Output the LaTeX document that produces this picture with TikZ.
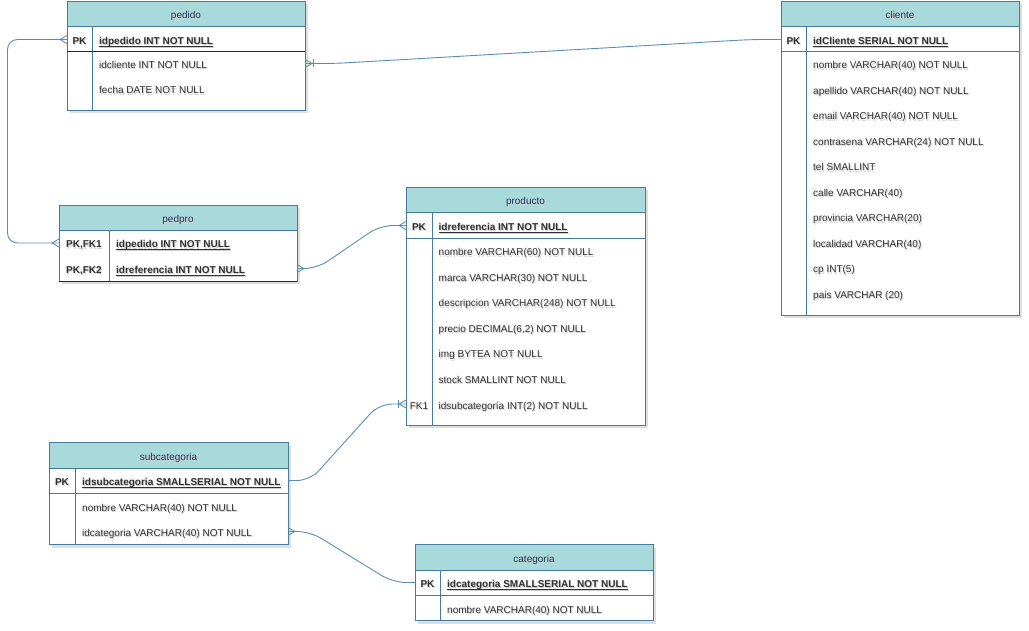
\documentclass[tikz,border=0pt]{standalone}
\usepackage{fontspec}
\setmainfont{Liberation Sans}
\usetikzlibrary{calc}

\definecolor{headfill}{HTML}{A8DADC}
\definecolor{edgeblue}{HTML}{457B9D}
\definecolor{linkblue}{HTML}{5B8DB2}
\definecolor{titletxt}{HTML}{1D3557}
\definecolor{rowtxt}{HTML}{303030}
\definecolor{shadowtxt}{HTML}{CFCFCF}

% text with a soft grey shadow underneath
\newcommand{\shtext}[1]{\rlap{\hspace{0.9pt}\raisebox{-1.1pt}{\textcolor{shadowtxt}{#1}}}#1}
% key field: bold with a fixed-depth underline
\newcommand{\keyfield}[1]{\setbox0\hbox{\bfseries #1}\rlap{\rule[-1.7pt]{\wd0}{0.6pt}}\box0}

\tikzset{
  tablebox/.style={draw=edgeblue, fill=white, line width=0.9pt, inner sep=0pt, outer sep=0pt},
  headbox/.style={draw=edgeblue, fill=headfill, line width=0.9pt},
  rule/.style={draw=edgeblue, line width=0.9pt},
  darkrule/.style={draw=black!85, line width=0.9pt},
  boxshadow/.style={fill=black, opacity=0.13},
  txt/.style={font=\fontsize{10}{12}\selectfont, inner sep=0pt, text height=10pt, text depth=0pt},
  title/.style={txt, text=titletxt},
  keycell/.style={txt, text=rowtxt},
  pkkey/.style={keycell, font=\fontsize{10}{12}\selectfont\bfseries},
  field/.style={txt, text=rowtxt, anchor=west},
  conn/.style={draw=linkblue, line width=0.9pt, rounded corners=13pt},
  endmark/.style={draw=linkblue, line width=0.9pt, rounded corners=0pt},
}

% #1 name, #2 left, #3 top, #4 right, #5 bottom, #6 header bottom, #7 divider x, #8 title
\newcommand{\ertable}[8]{%
  \fill[boxshadow] (#2+2.5,#3+3) rectangle (#4+2.5,#5+3);
  \node[tablebox, anchor=north west, minimum width={(#4-#2)*1pt}, minimum height={(#5-#3)*1pt}] (#1) at (#2,#3) {};
  \path[headbox] (#2,#3) rectangle (#4,#6);
  \node[title] (#1-title) at ({(#2+#4)/2},{(#3+#6)/2}) {\shtext{#8}};
  \draw[rule] (#7,#6) -- (#7,#5);
}

% crow's foot: #1 point on the table edge, #2 = +1 / -1 direction the link leaves in
\newcommand{\crowfoot}[2]{\draw[endmark] ($(#1)+(0,-4)$) -- ($(#1)+(#2*7,0)$) -- ($(#1)+(0,4)$);}
% single bar for the "one" side of one-to-many
\newcommand{\onebar}[2]{\draw[endmark] ($(#1)+(#2*8,-4)$) -- ($(#1)+(#2*8,4)$);}

\begin{document}
\begin{tikzpicture}[x=1pt,y=-1pt]
\useasboundingbox (0,0) rectangle (1029,631);

% ---------- pedido ----------
\ertable{pedido}{67}{1}{305}{110}{26}{92}{pedido}
\draw[darkrule] (67,51.5) -- (305,51.5);
\node[pkkey] (pedido-k0) at (79.5,39.5) {\shtext{PK}};
\node[field] (pedido-pk) at (99,39.5) {\shtext{\keyfield{idpedido INT NOT NULL}}};
\node[field] (pedido-r1) at (99,63.5) {\shtext{idcliente INT NOT NULL}};
\node[field] (pedido-r2) at (99,89) {\shtext{fecha DATE NOT NULL}};

% ---------- cliente ----------
\ertable{cliente}{781}{1}{1019}{315}{26}{806}{cliente}
\draw[rule] (781,51.5) -- (1019,51.5);
\node[pkkey] (cliente-k0) at (793.5,39.5) {\shtext{PK}};
\node[field] (cliente-pk) at (813,39.5) {\shtext{\keyfield{idCliente SERIAL NOT NULL}}};
\node[field] (cliente-r1) at (813,64) {\shtext{nombre VARCHAR(40) NOT NULL}};
\node[field] (cliente-r2) at (813,89.5) {\shtext{apellido VARCHAR(40) NOT NULL}};
\node[field] (cliente-r3) at (813,115) {\shtext{email VARCHAR(40) NOT NULL}};
\node[field] (cliente-r4) at (813,140.5) {\shtext{contrasena VARCHAR(24) NOT NULL}};
\node[field] (cliente-r5) at (813,166) {\shtext{tel SMALLINT}};
\node[field] (cliente-r6) at (813,191.5) {\shtext{calle VARCHAR(40)}};
\node[field] (cliente-r7) at (813,217) {\shtext{provincia VARCHAR(20)}};
\node[field] (cliente-r8) at (813,242.5) {\shtext{localidad VARCHAR(40)}};
\node[field] (cliente-r9) at (813,268) {\shtext{cp INT(5)}};
\node[field] (cliente-r10) at (813,293.5) {\shtext{pais VARCHAR (20)}};

% ---------- pedpro ----------
\ertable{pedpro}{59}{205}{297}{281}{230}{109}{pedpro}
\draw[darkrule] (59,281) -- (297,281);
\node[pkkey] (pedpro-k1) at (84,243) {\shtext{PK,FK1}};
\node[pkkey] (pedpro-k2) at (84,268.5) {\shtext{PK,FK2}};
\node[field] (pedpro-r1) at (116,243) {\shtext{\keyfield{idpedido INT NOT NULL}}};
\node[field] (pedpro-r2) at (116,268.5) {\shtext{\keyfield{idreferencia INT NOT NULL}}};

% ---------- producto ----------
\ertable{producto}{406}{187}{645}{425}{212.5}{432}{producto}
\draw[rule] (406,238.5) -- (645,238.5);
\node[pkkey] (producto-k0) at (419,225.5) {\shtext{PK}};
\node[keycell] (producto-k8) at (419,404) {\shtext{FK1}};
\node[field] (producto-pk) at (438.5,225.5) {\shtext{\keyfield{idreferencia INT NOT NULL}}};
\node[field] (producto-r1) at (438.5,251) {\shtext{nombre VARCHAR(60) NOT NULL}};
\node[field] (producto-r2) at (438.5,276.5) {\shtext{marca VARCHAR(30) NOT NULL}};
\node[field] (producto-r3) at (438.5,302) {\shtext{descripcion VARCHAR(248) NOT NULL}};
\node[field] (producto-r4) at (438.5,327.5) {\shtext{precio DECIMAL(6,2) NOT NULL}};
\node[field] (producto-r5) at (438.5,353) {\shtext{img BYTEA NOT NULL}};
\node[field] (producto-r6) at (438.5,378.5) {\shtext{stock SMALLINT NOT NULL}};
\node[field] (producto-r7) at (438.5,404) {\shtext{idsubcategoría INT(2) NOT NULL}};

% ---------- subcategoria ----------
\ertable{subcategoria}{49}{442.5}{288}{544.5}{468}{75}{subcategoria}
\draw[rule] (49,493.5) -- (288,493.5);
\node[pkkey] (subcategoria-k0) at (62,480.5) {\shtext{PK}};
\node[field] (subcategoria-pk) at (82,480.5) {\shtext{\keyfield{idsubcategoria SMALLSERIAL NOT NULL}}};
\node[field] (subcategoria-r1) at (82,506) {\shtext{nombre VARCHAR(40) NOT NULL}};
\node[field] (subcategoria-r2) at (82,531.5) {\shtext{idcategoria VARCHAR(40) NOT NULL}};

% ---------- categoria ----------
\ertable{categoria}{415}{544.5}{653}{620.5}{570}{440}{categoria}
\draw[rule] (415,595.5) -- (653,595.5);
\node[pkkey] (categoria-k0) at (427.5,582.5) {\shtext{PK}};
\node[field] (categoria-pk) at (447,582.5) {\shtext{\keyfield{idcategoria SMALLSERIAL NOT NULL}}};
\node[field] (categoria-r1) at (447,608) {\shtext{nombre VARCHAR(40) NOT NULL}};

% ---------- relationships ----------
\coordinate (c1a) at (pedido.east |- pedido-r1);
\coordinate (c1b) at (cliente.west |- cliente-pk);
\coordinate (c2a) at (pedido.west |- pedido-pk);
\coordinate (c2b) at (pedpro.west |- pedpro-r1);
\coordinate (c3a) at (pedpro.east |- pedpro-r2);
\coordinate (c3b) at (producto.west |- producto-pk);
\coordinate (c4a) at (subcategoria.east |- subcategoria-pk);
\coordinate (c4b) at (producto.west |- producto-r7);
\coordinate (c5a) at (subcategoria.east |- subcategoria-r2);
\coordinate (c5b) at (categoria.west |- categoria-pk);

% pedido.idcliente >--|| cliente.idCliente
\draw[conn] (c1a) -- ++(30,0) -- ($(c1b)+(-30,0)$) -- (c1b);
\crowfoot{c1a}{1}
\onebar{c1a}{1}

% pedido.idpedido >--< pedpro.idpedido
\draw[conn, rounded corners=10pt] (c2a) -- ++(-59.5,0) |- (c2b);
\crowfoot{c2a}{-1}
\crowfoot{c2b}{-1}

% pedpro.idreferencia >--< producto.idreferencia
\draw[conn] (c3a) -- ++(20,0) -- ($(c3b)+(-26,0)$) -- (c3b);
\crowfoot{c3a}{1}
\crowfoot{c3b}{-1}

% subcategoria.idsubcategoria --|< producto.idsubcategoria
\draw[conn] (c4a) -- ++(22,0) -- ($(c4b)+(-27,0)$) -- (c4b);
\crowfoot{c4b}{-1}
\onebar{c4b}{-1}

% subcategoria.idcategoria >-- categoria.idcategoria
\draw[conn] (c5a) -- ++(22,0) -- ($(c5b)+(-22,0)$) -- (c5b);
\crowfoot{c5a}{1}

\end{tikzpicture}
\end{document}
